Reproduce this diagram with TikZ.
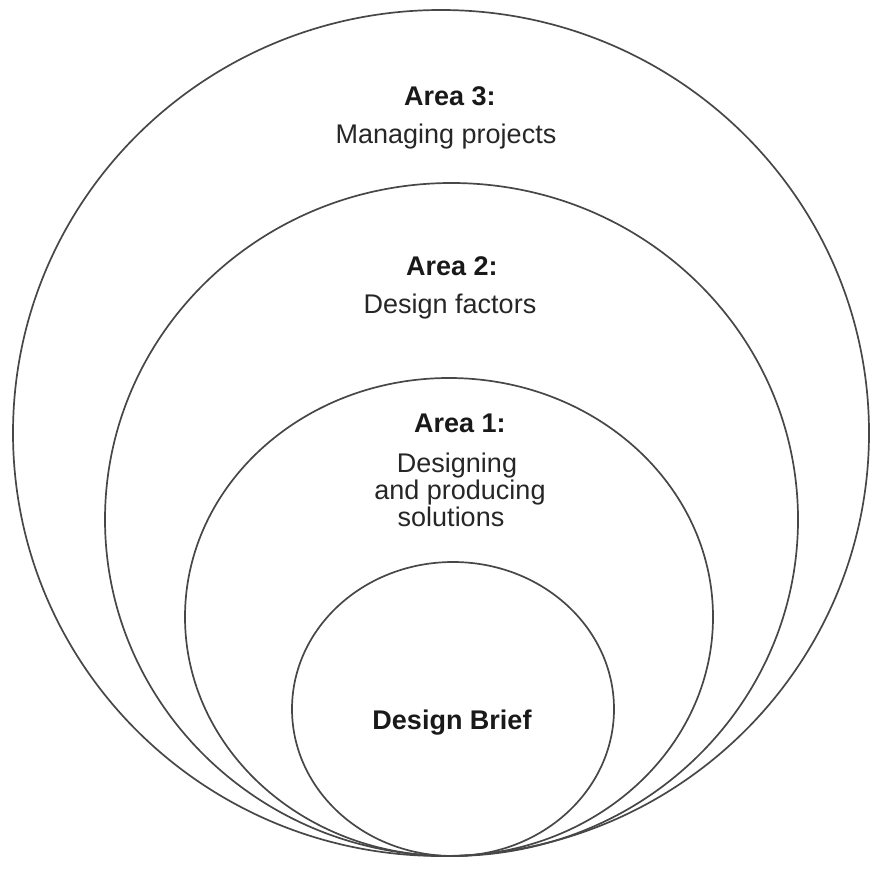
\documentclass[tikz,border=0pt]{standalone}
\usepackage{fontspec}
\setmainfont{Liberation Sans}

\begin{document}
\begin{tikzpicture}[x=0.5pt, y=-0.5pt,
    ring/.style={draw=black!72, line width=0.85pt},
    head/.style={anchor=base, font=\fontsize{13.5}{14}\selectfont\bfseries, text=black!90},
    body/.style={anchor=base, font=\fontsize{13.5}{14}\selectfont, text=black!85, align=center}]
    \useasboundingbox (0,0) rectangle (877,887);

    % Draw the nested areas, all touching at the bottom
    \draw[ring] (441,433) ellipse [x radius=428, y radius=423];
    \draw[ring] (451.5,519.5) ellipse [x radius=346.5, y radius=336.5];
    \draw[ring] (449,617) ellipse [x radius=264, y radius=239];
    \draw[ring] (453,709) ellipse [x radius=161, y radius=147];

    % Add labels
    \node[head] (area3) at (450,106) {Area 3:};
    \node[body] (managing) at (446,144) {Managing projects};
    \node[head] (area2) at (452,276) {Area 2:};
    \node[body] (factors) at (450,314) {Design factors};
    \node[head] (area1) at (460,432) {Area 1:};
    \node[body] (designing) at (457,472) {Designing};
    \node[body] (producing) at (460,499) {and producing};
    \node[body] (solutions) at (451,526) {solutions};
    \node[head] (brief) at (452,729) {Design Brief};
\end{tikzpicture}
\end{document}
